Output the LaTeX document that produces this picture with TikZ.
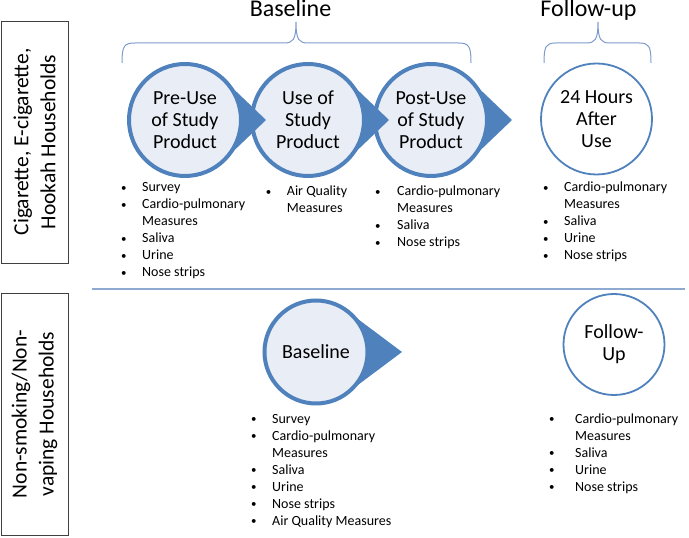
\documentclass[tikz,border=0pt]{standalone}
\usepackage{fontspec}
\setmainfont{Carlito}
\usetikzlibrary{calc}
\definecolor{accent}{HTML}{4F81BD}
\definecolor{lightfill}{HTML}{E9EDF5}
\definecolor{sepline}{HTML}{8FAAD0}
\definecolor{bracecol}{HTML}{7E9CCB}
\definecolor{boxgray}{HTML}{404040}
\newcommand\stagefont{\fontsize{20}{22}\selectfont}
\newcommand\listfont{\fontsize{14}{17}\selectfont}
\newcommand\headfont{\fontsize{24}{29}\selectfont}
\newcommand\groupfont{\fontsize{21.5}{27}\selectfont}
\newcommand\smallbullet{\raisebox{0.8pt}{\scalebox{0.78}{\textbullet}}}
\newcommand\bitem[1]{\smallbullet & #1\\}
\newcommand\bcont[1]{& #1\\}
\newcommand\pointer[4]{%
  \fill[accent] ($(#1.center)+(#4:#2pt)$) -- ($(#1.center)+(#3pt,0)$)
    -- ($(#1.center)+(-#4:#2pt)$) arc[start angle=-#4, end angle=#4, radius=#2pt] -- cycle;}
\tikzset{
  stagethick/.style={circle, draw=accent, line width=4pt, fill=lightfill, inner sep=0pt,
    align=center, font=\stagefont},
  stagethin/.style={circle, draw=accent, line width=1.8pt, fill=white, inner sep=0pt,
    align=center, font=\stagefont},
  grouplabel/.style={draw=boxgray, line width=0.8pt, rotate=90, minimum width=242pt,
    minimum height=67pt, inner sep=0pt, align=center, font=\groupfont},
  bulletlist/.style={anchor=base west, inner sep=0pt, font=\listfont},
  heading/.style={anchor=base, inner sep=0pt, font=\headfont},
  bracestyle/.style={draw=bracecol, line width=1pt},
}
\begin{document}
\begin{tikzpicture}[x=1pt,y=1pt]
\useasboundingbox (0,0) rectangle (689,538);

% headings and braces
\node[heading] (hbase) at (290.5,521) {Baseline};
\node[heading] (hfollow) at (588.5,521) {Follow-up};
\draw[bracestyle] (122,475) .. controls (122,492) and (124,495) .. (135,495) -- (284,495)
  .. controls (293,495) and (296,498) .. (296,516)
  .. controls (296,498) and (299,495) .. (308,495) -- (458,495)
  .. controls (469,495) and (471,492) .. (471,475);
\draw[bracestyle] (544,475) .. controls (544,492) and (546,495) .. (556,495) -- (586,495)
  .. controls (595,495) and (598,498) .. (598,516)
  .. controls (598,498) and (601,495) .. (610,495) -- (639,495)
  .. controls (649,495) and (651,492) .. (651,475);

% group labels
\node[grouplabel] (grp1) at (34.5,396) {Cigarette, E-cigarette,\\Hookah Households};
\node[grouplabel] (grp2) at (34.5,124) {Non-smoking/Non-\\vaping Households};

% separator
\coordinate (sepL) at (92,249);
\coordinate (sepR) at (685,249);
\draw[sepline, line width=1.5pt] (sepL) -- (sepR);

% stages (top)
\node[stagethick, minimum size=112pt] (pre) at (185,418) {Pre-Use\\of Study\\Product};
\node[stagethick, minimum size=112pt] (use) at (308,418) {Use of\\Study\\Product};
\node[stagethick, minimum size=112pt] (post) at (431,418) {Post-Use\\of Study\\Product};
\node[stagethin, minimum size=111pt] (h24) at (596.5,419) {24 Hours\\After\\Use};
% stages (bottom)
\node[stagethick, minimum size=103pt] (base2) at (316,186) {Baseline};
\node[stagethin, minimum size=101pt] (fu) at (614,193.5) {Follow-\\Up};

% pointers
\pointer{pre}{56}{81}{46.3}
\pointer{use}{56}{81}{46.3}
\pointer{post}{56}{81}{46.3}
\pointer{base2}{51.5}{86}{53.2}

% bullet lists
\node[bulletlist] (l1) at (121,346) {\begin{tabular}[t]{@{}p{21pt}@{}l@{}}
\bitem{Survey}\bitem{Cardio-pulmonary}\bcont{Measures}\bitem{Saliva}\bitem{Urine}\bitem{Nose strips}
\end{tabular}};
\node[bulletlist] (l2) at (265.7,342) {\begin{tabular}[t]{@{}p{21pt}@{}l@{}}
\bitem{Air Quality}\bcont{Measures}
\end{tabular}};
\node[bulletlist] (l3) at (375,342) {\begin{tabular}[t]{@{}p{22pt}@{}l@{}}
\bitem{Cardio-pulmonary}\bcont{Measures}\bitem{Saliva}\bitem{Nose strips}
\end{tabular}};
\node[bulletlist] (l4) at (543,346) {\begin{tabular}[t]{@{}p{21pt}@{}l@{}}
\bitem{Cardio-pulmonary}\bcont{Measures}\bitem{Saliva}\bitem{Urine}\bitem{Nose strips}
\end{tabular}};
\node[bulletlist] (l5) at (251,114.5) {\begin{tabular}[t]{@{}p{21pt}@{}l@{}}
\bitem{Survey}\bitem{Cardio-pulmonary}\bcont{Measures}\bitem{Saliva}\bitem{Urine}\bitem{Nose strips}\bitem{Air Quality Measures}
\end{tabular}};
\node[bulletlist] (l6) at (549,114.5) {\begin{tabular}[t]{@{}p{26pt}@{}l@{}}
\bitem{Cardio-pulmonary}\bcont{Measures}\bitem{Saliva}\bitem{Urine}\bitem{Nose strips}
\end{tabular}};
\end{tikzpicture}
\end{document}
